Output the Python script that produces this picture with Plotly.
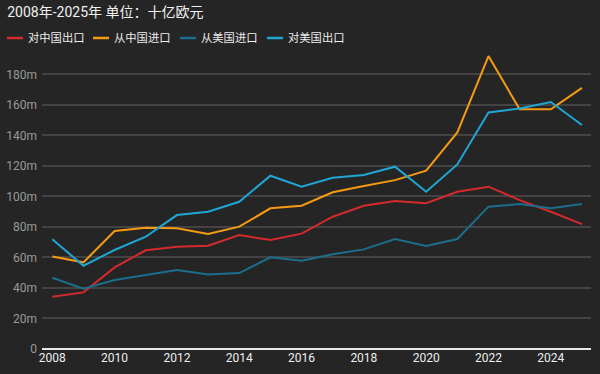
import plotly.graph_objects as go

years = list(range(2008, 2026))
export_to_china = [34.3, 37.1, 53.5, 64.7, 67.0, 67.7, 74.7, 71.4, 75.6, 86.7, 93.9, 97.0, 95.5, 103.1, 106.4, 97.6, 90.0, 81.9]
import_from_china = [60.7, 56.8, 77.3, 79.5, 79.1, 75.4, 80.2, 92.2, 93.9, 102.7, 106.8, 110.7, 116.9, 142.0, 192.0, 157.1, 157.1, 171.2]
import_from_us = [46.7, 39.5, 45.2, 48.5, 51.8, 48.9, 49.8, 60.1, 57.9, 62.1, 65.3, 72.1, 67.5, 72.1, 93.3, 95.0, 92.2, 95.0]
export_to_us = [71.9, 54.6, 64.9, 73.6, 87.8, 90.0, 96.5, 113.6, 106.4, 112.3, 114.0, 119.5, 103.1, 121.0, 155.1, 157.7, 161.9, 146.8]

series_names = ["对中国出口", "从中国进口", "从美国进口", "对美国出口"]
series_colors = ["#d42a2e", "#f59b12", "#1b6f8c", "#20a6d4"]
series_values = [export_to_china, import_from_china, import_from_us, export_to_us]

x_tick_vals = list(range(2008, 2025, 2))
y_tick_vals = [0, 20, 40, 60, 80, 100, 120, 140, 160, 180]
y_tick_text = ["0"] + [f"{v}m" for v in y_tick_vals[1:]]

title_text = "2008年-2025年 单位：十亿欧元"

FONT = "Roboto, 'Noto Sans CJK SC', sans-serif"

W, H = 600, 374
ML, MR, MT, MB = 42, 9, 50, 25
PW, PH = W - ML - MR, H - MT - MB


def px_to_paper_x(px):
    return (px - ML) / PW


def px_to_paper_y(py):
    return (H - MB - py) / PH


fig = go.Figure()
for name, color, vals in zip(series_names, series_colors, series_values):
    fig.add_trace(go.Scatter(
        x=years, y=vals, name=name, mode="lines",
        line=dict(color=color, width=2),
    ))

# Legend drawn as short line swatches + text labels (layout pixels)
legend_starts = [7, 93, 180, 267]
legend_y = 38
for start, name, color in zip(legend_starts, series_names, series_colors):
    fig.add_shape(type="line", xref="paper", yref="paper",
                  x0=px_to_paper_x(start), x1=px_to_paper_x(start + 16),
                  y0=px_to_paper_y(legend_y), y1=px_to_paper_y(legend_y),
                  line=dict(color=color, width=2.5))
    fig.add_annotation(text=name, xref="paper", yref="paper",
                       x=px_to_paper_x(start + 19), y=px_to_paper_y(legend_y),
                       xanchor="left", yanchor="middle", showarrow=False,
                       font=dict(size=11.3, color="#eeeeee", family=FONT))

fig.update_layout(
    width=W, height=H,
    paper_bgcolor="#252525", plot_bgcolor="#252525",
    margin=dict(l=ML, r=MR, t=MT, b=MB, autoexpand=False),
    font=dict(family=FONT, color="#dddddd", size=12),
    title=dict(text=title_text, x=0.012, xanchor="left", y=0.967, yanchor="middle",
               yref="container", xref="container",
               font=dict(size=14, color="#f0f0f0", family=FONT)),
    showlegend=False,
    xaxis=dict(range=[2007.67, 2025.29], tickmode="array", tickvals=x_tick_vals,
               showgrid=False, zeroline=False, showline=False,
               tickfont=dict(size=12, color="#eeeeee"), ticks="", ticklen=0),
    yaxis=dict(range=[0, 196], tickmode="array", tickvals=y_tick_vals, ticktext=y_tick_text,
               showgrid=True, gridcolor="#434343", gridwidth=1.5,
               zeroline=True, zerolinecolor="#e6e6e6", zerolinewidth=2,
               tickfont=dict(size=12, color="#9a9a9a"), ticks="", ticklabelstandoff=4),
)

fig.write_html("out.html", config={"displayModeBar": False},
               post_script="document.body.style.margin='0';")
